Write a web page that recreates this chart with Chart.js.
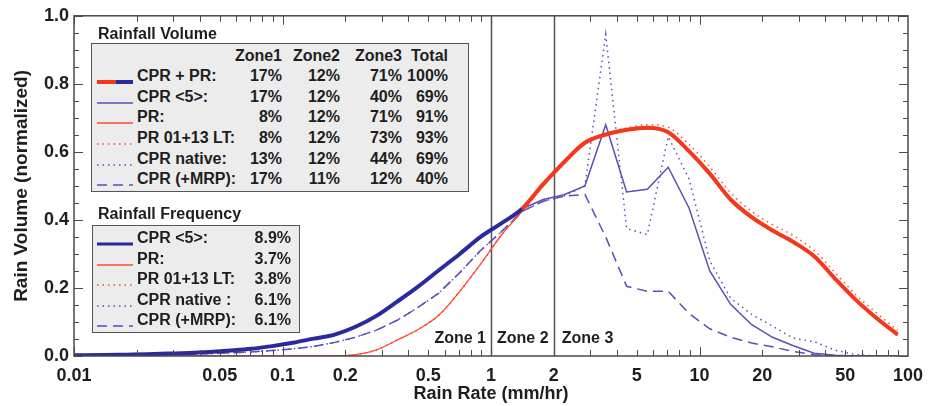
<!DOCTYPE html>
<html>
<head>
<meta charset="utf-8">
<script src="https://cdn.jsdelivr.net/npm/chart.js@4.4.1/dist/chart.umd.min.js"></script>
<style>
  body { margin: 0; background: #fff; }
  #wrap { position: relative; width: 935px; height: 406px; font-family: "Liberation Sans", Arial, sans-serif; color: #1e1e1e; }
  #chart { position: absolute; left: 0; top: 0; }
  .box { position: absolute; box-sizing: border-box; background: #ececec; border: 1.5px solid #555; }
  .txt { position: absolute; font-size: 16px; font-weight: bold; line-height: 18px; white-space: nowrap; }
  .num { text-align: right; width: 70px; }
  .sample { position: absolute; width: 36px; height: 8px; }
</style>
</head>
<body>
<div id="wrap">
  <canvas id="chart" width="935" height="406"></canvas>
  <div id="legends"></div>
</div>
<script>
//
// Rain volume vs rain rate
//

// rain rate bins (mm/hr)
var rainRate = [0.01, 0.0141, 0.0178, 0.0224, 0.0282, 0.0355, 0.0447, 0.0562, 0.0708, 0.0891,
  0.112, 0.141, 0.178, 0.224, 0.282, 0.355, 0.447, 0.562, 0.708, 0.891,
  1.12, 1.41, 1.78, 2.24, 2.82, 3.55, 4.47, 5.62, 7.08, 8.91,
  11.2, 14.1, 17.8, 22.4, 28.2, 35.5, 44.7, 56.2, 70.8, 89.1];

// normalized rain volume per series
var cprPr = [0.002, 0.003, 0.004, 0.005, 0.007, 0.009, 0.012, 0.016, 0.021, 0.029,
  0.039, 0.051, 0.063, 0.086, 0.118, 0.16, 0.204, 0.252, 0.30, 0.35,
  0.39, 0.433, 0.505, 0.57, 0.627, 0.651, 0.665, 0.671, 0.658, 0.602,
  0.536, 0.46, 0.408, 0.369, 0.335, 0.293, 0.227, 0.165, 0.111, 0.063];
var cpr5 = [0.002, 0.003, 0.004, 0.005, 0.007, 0.009, 0.012, 0.016, 0.021, 0.029,
  0.039, 0.051, 0.063, 0.086, 0.118, 0.16, 0.204, 0.252, 0.30, 0.35,
  0.39, 0.433, 0.46, 0.474, 0.50, 0.68, 0.482, 0.49, 0.555, 0.435,
  0.25, 0.152, 0.092, 0.055, 0.03, 0.008, 0.002, 0, 0, 0];
var pr = [0, 0, 0, 0, 0, 0, 0, 0, 0, 0,
  0, 0, 0, 0.004, 0.018, 0.047, 0.078, 0.12, 0.19, 0.27,
  0.355, 0.425, 0.5, 0.565, 0.622, 0.648, 0.662, 0.668, 0.655, 0.598,
  0.532, 0.456, 0.404, 0.366, 0.332, 0.29, 0.224, 0.162, 0.108, 0.06];
var prLt = [0, 0, 0, 0, 0, 0, 0, 0, 0, 0,
  0, 0, 0, 0.004, 0.018, 0.047, 0.078, 0.12, 0.19, 0.27,
  0.355, 0.425, 0.5, 0.565, 0.627, 0.655, 0.67, 0.68, 0.672, 0.622,
  0.556, 0.48, 0.425, 0.386, 0.354, 0.31, 0.245, 0.18, 0.126, 0.075];
var cprNative = [0.001, 0.0015, 0.002, 0.003, 0.004, 0.005, 0.007, 0.009, 0.012, 0.016,
  0.021, 0.028, 0.04, 0.055, 0.076, 0.105, 0.143, 0.185, 0.245, 0.31,
  0.365, 0.425, 0.455, 0.47, 0.50, 0.945, 0.375, 0.357, 0.645, 0.52,
  0.28, 0.17, 0.122, 0.088, 0.052, 0.042, 0.017, 0.004, 0, 0];
var cprMrp = [0.001, 0.0015, 0.002, 0.003, 0.004, 0.005, 0.007, 0.009, 0.012, 0.016,
  0.021, 0.028, 0.04, 0.055, 0.076, 0.105, 0.143, 0.185, 0.245, 0.31,
  0.365, 0.425, 0.455, 0.47, 0.475, 0.35, 0.205, 0.19, 0.19, 0.125,
  0.08, 0.055, 0.038, 0.027, 0.013, 0.004, 0, 0, 0, 0];

// axis ticks
var xTickValues = [0.01, 0.05, 0.1, 0.2, 0.5, 1, 2, 5, 10, 20, 50, 100];
var zoneBounds = [1, 2];

// legend tables
var volLabels = ["CPR + PR:", "CPR <5>:", "PR:", "PR 01+13 LT:", "CPR native:", "CPR (+MRP):"];
var volZone1 = [17, 17, 8, 8, 13, 17];
var volZone2 = [12, 12, 12, 12, 12, 11];
var volZone3 = [71, 40, 71, 73, 44, 12];
var volTotal = [100, 69, 91, 93, 69, 40];
var freqLabels = ["CPR <5>:", "PR:", "PR 01+13 LT:", "CPR native :", "CPR (+MRP):"];
var freqValues = [8.9, 3.7, 3.8, 6.1, 6.1];

var BLUE = "#2b2a9c";
var PURPLE = "#5a4fb6";
var RED = "#f4381c";
var RED_THIN = "#ff4b2e";

var styles = {
  cprPr:  { color: RED, width: 4, dash: [] },
  cpr5:   { color: PURPLE, width: 1.5, dash: [] },
  cpr5f:  { color: BLUE, width: 3, dash: [] },
  pr:     { color: RED_THIN, width: 1.3, dash: [] },
  prLt:   { color: RED_THIN, width: 1.5, dash: [1.5, 4] },
  native: { color: PURPLE, width: 1.5, dash: [1.5, 4] },
  mrp:    { color: PURPLE, width: 1.5, dash: [10, 6] }
};

function pts(values) {
  return rainRate.map(function (r, i) { return { x: r, y: values[i] }; });
}

function ds(label, values, st, extra) {
  var d = {
    label: label,
    data: pts(values),
    borderColor: st.color,
    borderWidth: st.width,
    borderDash: st.dash,
    pointRadius: 0,
    tension: 0,
    fill: false
  };
  return Object.assign(d, extra || {});
}

var FONT = "'Liberation Sans', Arial, sans-serif";

// ticks, frame, zone lines and titles
var axisFrame = {
  id: "axisFrame",
  beforeDatasetsDraw: function (chart) {
    var ctx = chart.ctx, a = chart.chartArea, x = chart.scales.x;
    ctx.save();
    ctx.strokeStyle = "#555";
    ctx.lineWidth = 1.5;
    zoneBounds.forEach(function (z) {
      var px = Math.round(x.getPixelForValue(z)) + 0.5;
      ctx.beginPath();
      ctx.moveTo(px, a.top);
      ctx.lineTo(px, a.bottom);
      ctx.stroke();
    });
    ctx.restore();
  },
  afterDraw: function (chart) {
    var ctx = chart.ctx, a = chart.chartArea, x = chart.scales.x, y = chart.scales.y;
    ctx.save();
    ctx.strokeStyle = "#4a4a4a";
    ctx.lineWidth = 1.5;
    ctx.strokeRect(a.left, a.top, a.right - a.left, a.bottom - a.top);

    ctx.lineWidth = 1;
    ctx.beginPath();
    [0.01, 0.1, 1, 10].forEach(function (d) {
      for (var m = 1; m <= 9; m++) {
        var px = Math.round(x.getPixelForValue(d * m)) + 0.5;
        var len = m === 1 ? 9 : 6;
        ctx.moveTo(px, a.bottom); ctx.lineTo(px, a.bottom - len);
        ctx.moveTo(px, a.top); ctx.lineTo(px, a.top + len);
      }
    });
    for (var i = 0; i <= 20; i++) {
      var py = Math.round(y.getPixelForValue(i * 0.05)) + 0.5;
      var l = i % 4 === 0 ? 9 : 5;
      ctx.moveTo(a.left, py); ctx.lineTo(a.left + l, py);
      ctx.moveTo(a.right, py); ctx.lineTo(a.right - l, py);
    }
    ctx.stroke();

    // zone labels
    ctx.fillStyle = "#1e1e1e";
    ctx.font = "bold 16px " + FONT;
    ctx.textBaseline = "middle";
    var x1 = x.getPixelForValue(zoneBounds[0]), x2 = x.getPixelForValue(zoneBounds[1]);
    ctx.textAlign = "right";
    ctx.fillText("Zone 1", x1 - 5, 339);
    ctx.textAlign = "left";
    ctx.fillText("Zone 2", x1 + 6, 339);
    ctx.fillText("Zone 3", x2 + 8, 339);

    // axis titles
    ctx.font = "bold 18px " + FONT;
    ctx.textAlign = "center";
    ctx.fillText("Rain Rate (mm/hr)", (a.left + a.right) / 2, 394);
    ctx.font = "bold 19px " + FONT;
    ctx.translate(22, (a.top + a.bottom) / 2);
    ctx.rotate(-Math.PI / 2);
    ctx.fillText("Rain Volume (normalized)", 0, 0);
    ctx.restore();
  }
};

var smooth = { cubicInterpolationMode: "monotone" };

var chart = new Chart(document.getElementById("chart"), {
  type: "line",
  data: {
    datasets: [
      ds("CPR + PR", cprPr, styles.cprPr, {
        cubicInterpolationMode: "monotone",
        segment: { borderColor: function (c) { return c.p0DataIndex < 21 ? BLUE : RED; } }
      }),
      ds("CPR <5>", cpr5, styles.cpr5),
      ds("PR", pr, styles.pr, smooth),
      ds("PR 01+13 LT", prLt, styles.prLt, smooth),
      ds("CPR native", cprNative, styles.native),
      ds("CPR (+MRP)", cprMrp, styles.mrp)
    ]
  },
  options: {
    responsive: false,
    animation: false,
    layout: { padding: { top: 13, right: 27, left: 0, bottom: 0 } },
    plugins: { legend: { display: false }, tooltip: { enabled: false } },
    scales: {
      x: {
        type: "logarithmic",
        min: 0.01,
        max: 100,
        grid: { display: false, drawTicks: false },
        border: { display: false },
        afterBuildTicks: function (s) { s.ticks = xTickValues.map(function (v) { return { value: v }; }); },
        afterFit: function (s) { s.height = 50; },
        ticks: {
          autoSkip: false, maxRotation: 0, padding: 9, color: "#1e1e1e",
          font: { family: FONT, size: 18, weight: "bold" },
          callback: function (v) { return String(v); }
        }
      },
      y: {
        min: 0,
        max: 1,
        grid: { display: false, drawTicks: false },
        border: { display: false },
        afterFit: function (s) { s.width = 74; },
        ticks: {
          stepSize: 0.2, padding: 5, color: "#1e1e1e",
          font: { family: FONT, size: 18, weight: "bold" },
          callback: function (v) { return v.toFixed(1); }
        }
      }
    }
  },
  plugins: [axisFrame]
});

// legend tables (HTML)
var legends = document.getElementById("legends");

function el(cls, css, html) {
  var d = document.createElement("div");
  d.className = cls;
  d.style.cssText = css;
  if (html !== undefined) d.textContent = html;
  legends.appendChild(d);
  return d;
}

function sample(cy, parts) {
  var svg = '<svg width="36" height="8" xmlns="http://www.w3.org/2000/svg">';
  parts.forEach(function (p) {
    svg += '<line x1="' + p.x1 + '" y1="4" x2="' + p.x2 + '" y2="4" stroke="' + p.st.color +
      '" stroke-width="' + p.st.width + '" stroke-dasharray="' + (p.st.dash.length ? p.st.dash.join(",") : "none") + '"/>';
  });
  svg += "</svg>";
  var d = el("sample", "left:97px;top:" + (cy - 4) + "px;");
  d.innerHTML = svg;
}

function cell(text, cy, left, right) {
  if (right) return el("txt num", "left:" + (right - 70) + "px;top:" + (cy - 9) + "px;", text);
  return el("txt", "left:" + left + "px;top:" + (cy - 9) + "px;", text);
}

// Rainfall Volume
el("txt", "left:98px;top:25px;", "Rainfall Volume");
el("box", "left:91px;top:43px;width:378px;height:149px;");
var volCols = [282, 340, 402, 448];
["Zone1", "Zone2", "Zone3", "Total"].forEach(function (h, j) { cell(h, 55.5, 0, volCols[j]); });
var volSamples = [
  [{ x1: 0, x2: 19, st: styles.cprPr }, { x1: 19, x2: 36, st: { color: BLUE, width: 4, dash: [] } }],
  [{ x1: 0, x2: 36, st: styles.cpr5 }],
  [{ x1: 0, x2: 36, st: styles.pr }],
  [{ x1: 0, x2: 36, st: styles.prLt }],
  [{ x1: 0, x2: 36, st: styles.native }],
  [{ x1: 0, x2: 36, st: styles.mrp }]
];
volLabels.forEach(function (lab, i) {
  var cy = 76.2 + i * 20.6;
  sample(cy, volSamples[i]);
  cell(lab, cy, 137);
  cell(volZone1[i] + "%", cy, 0, volCols[0]);
  cell(volZone2[i] + "%", cy, 0, volCols[1]);
  cell(volZone3[i] + "%", cy, 0, volCols[2]);
  cell(volTotal[i] + "%", cy, 0, volCols[3]);
});

// Rainfall Frequency
el("txt", "left:98px;top:205px;", "Rainfall Frequency");
el("box", "left:92px;top:225px;width:208px;height:108px;");
var freqSamples = [styles.cpr5f, styles.pr, styles.prLt, styles.native, styles.mrp];
freqLabels.forEach(function (lab, i) {
  var cy = 238 + i * 20.6;
  sample(cy, [{ x1: 0, x2: 36, st: freqSamples[i] }]);
  cell(lab, cy, 137);
  cell(freqValues[i].toFixed(1) + "%", cy, 0, 291);
});
</script>
</body>
</html>
